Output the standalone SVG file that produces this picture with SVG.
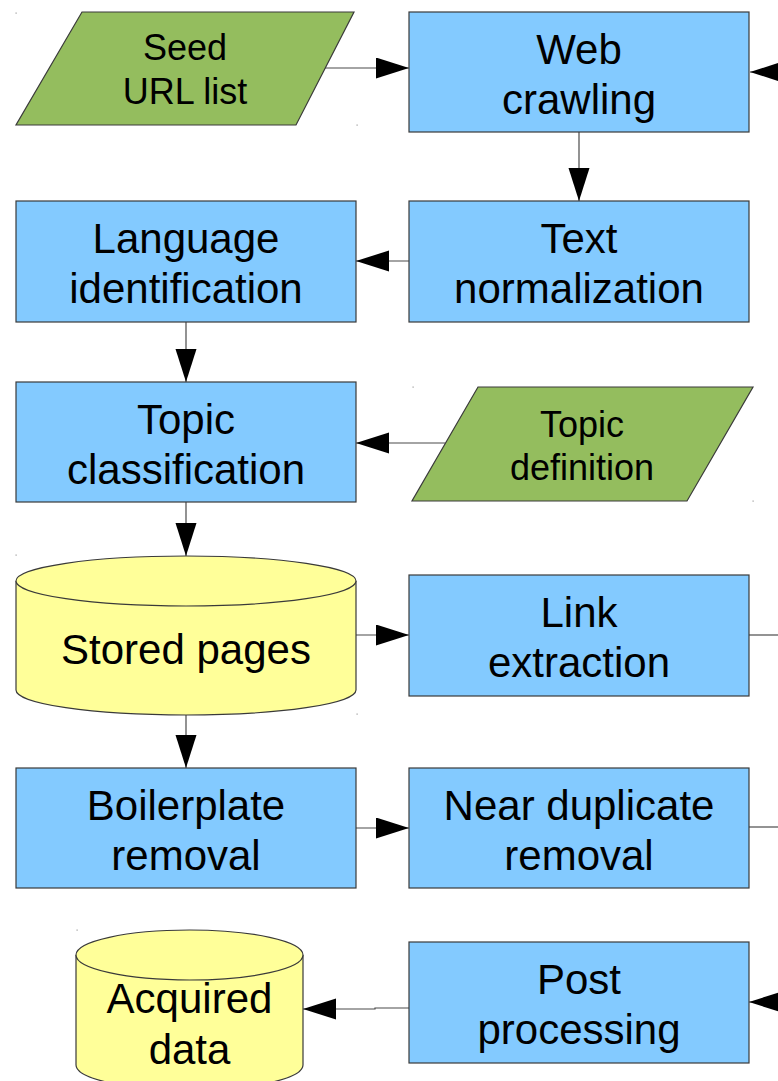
<svg xmlns="http://www.w3.org/2000/svg" width="778" height="1081" viewBox="0 0 778 1081">
  <style>
    .proc { fill: #83caff; stroke: #3a3a3a; stroke-width: 1.2; }
    .io { fill: #94bd5e; stroke: #3a3a3a; stroke-width: 1.2; }
    .store { fill: #ffff99; stroke: #3a3a3a; stroke-width: 1.2; }
    .lbl { font-family: "Liberation Sans", Arial, sans-serif; font-size: 42px; fill: #000; text-anchor: middle; }
    .lbl-s { font-family: "Liberation Sans", Arial, sans-serif; font-size: 36px; fill: #000; text-anchor: middle; }
    .edge { fill: none; stroke: #4a4a4a; stroke-width: 1.2; marker-end: url(#head); }
    .edge-open { fill: none; stroke: #4a4a4a; stroke-width: 1.2; }
    .tick { fill: #9a9a9a; }
  </style>
  <defs>
    <marker id="head" markerUnits="userSpaceOnUse" markerWidth="34" markerHeight="22" refX="33" refY="10.5" orient="auto">
      <path d="M0,0 L33,10.5 L0,21 Z" fill="#000"/>
    </marker>
  </defs>

  <rect width="778" height="1081" fill="#fff"/>

  <!-- corner marks of the page layout -->
  <g id="marks">
    <rect class="tick" x="15.5" y="12.5" width="1.2" height="1.2"/>
    <rect class="tick" x="356.5" y="124.5" width="1.2" height="1.2"/>
    <rect class="tick" x="412.5" y="386.5" width="1.2" height="1.2"/>
    <rect class="tick" x="752.5" y="500.5" width="1.2" height="1.2"/>
    <rect class="tick" x="15.5" y="554.5" width="1.2" height="1.2"/>
    <rect class="tick" x="356.5" y="713.5" width="1.2" height="1.2"/>
    <rect class="tick" x="76.5" y="929.5" width="1.2" height="1.2"/>
  </g>

  <!-- connectors -->
  <g id="connectors">
    <path class="edge" d="M322,68 H409"/>
    <path class="edge" d="M800,72 H750"/>
    <path class="edge" d="M579,132 V201"/>
    <path class="edge" d="M409,261 H356"/>
    <path class="edge" d="M186,322 V382"/>
    <path class="edge" d="M445,443 H356"/>
    <path class="edge" d="M186,502 V556"/>
    <path class="edge" d="M356,635 H409"/>
    <path class="edge-open" d="M749,635 H780"/>
    <path class="edge" d="M186,715 V768"/>
    <path class="edge" d="M356,828 H409"/>
    <path class="edge-open" d="M749,827 H780"/>
    <path class="edge" d="M800,1002 H749"/>
    <path class="edge" d="M409,1008 H375 V1009 H303"/>
  </g>

  <!-- nodes -->
  <g id="seed-url-list">
    <polygon class="io" points="82,12 354,12 296,125 16,125"/>
    <text class="lbl-s" x="185" y="60">Seed</text>
    <text class="lbl-s" x="185" y="104">URL list</text>
  </g>

  <g id="web-crawling">
    <rect class="proc" x="409" y="12" width="340" height="120"/>
    <text class="lbl" x="579" y="63.5">Web</text>
    <text class="lbl" x="579" y="113.5">crawling</text>
  </g>

  <g id="language-identification">
    <rect class="proc" x="16" y="201" width="340" height="121"/>
    <text class="lbl" x="186" y="253">Language</text>
    <text class="lbl" x="186" y="303">identification</text>
  </g>

  <g id="text-normalization">
    <rect class="proc" x="409" y="201" width="340" height="121"/>
    <text class="lbl" x="579" y="253">Text</text>
    <text class="lbl" x="579" y="303">normalization</text>
  </g>

  <g id="topic-classification">
    <rect class="proc" x="16" y="382" width="340" height="120"/>
    <text class="lbl" x="186" y="433.5">Topic</text>
    <text class="lbl" x="186" y="483.5">classification</text>
  </g>

  <g id="topic-definition">
    <polygon class="io" points="478,387 753,387 687,501 412,501"/>
    <text class="lbl-s" x="582" y="437">Topic</text>
    <text class="lbl-s" x="582" y="480">definition</text>
  </g>

  <g id="stored-pages">
    <path class="store" d="M16,581 A170,25 0 0,1 356,581 V690 A170,25 0 0,1 16,690 Z"/>
    <path class="store" d="M16,581 A170,25 0 0,0 356,581" fill="none"/>
    <text class="lbl" x="186" y="664">Stored pages</text>
  </g>

  <g id="link-extraction">
    <rect class="proc" x="409" y="575" width="340" height="121"/>
    <text class="lbl" x="579" y="627">Link</text>
    <text class="lbl" x="579" y="677">extraction</text>
  </g>

  <g id="boilerplate-removal">
    <rect class="proc" x="16" y="768" width="340" height="120"/>
    <text class="lbl" x="186" y="819.5">Boilerplate</text>
    <text class="lbl" x="186" y="869.5">removal</text>
  </g>

  <g id="near-duplicate-removal">
    <rect class="proc" x="409" y="768" width="340" height="120"/>
    <text class="lbl" x="579" y="819.5">Near duplicate</text>
    <text class="lbl" x="579" y="869.5">removal</text>
  </g>

  <g id="acquired-data">
    <path class="store" d="M76,955 A113.5,25 0 0,1 303,955 V1065 A113.5,25 0 0,1 76,1065 Z"/>
    <path class="store" d="M76,955 A113.5,25 0 0,0 303,955" fill="none"/>
    <text class="lbl" x="189.5" y="1013">Acquired</text>
    <text class="lbl" x="189.5" y="1064">data</text>
  </g>

  <g id="post-processing">
    <rect class="proc" x="409" y="942" width="340" height="121"/>
    <text class="lbl" x="579" y="994">Post</text>
    <text class="lbl" x="579" y="1044">processing</text>
  </g>
</svg>
